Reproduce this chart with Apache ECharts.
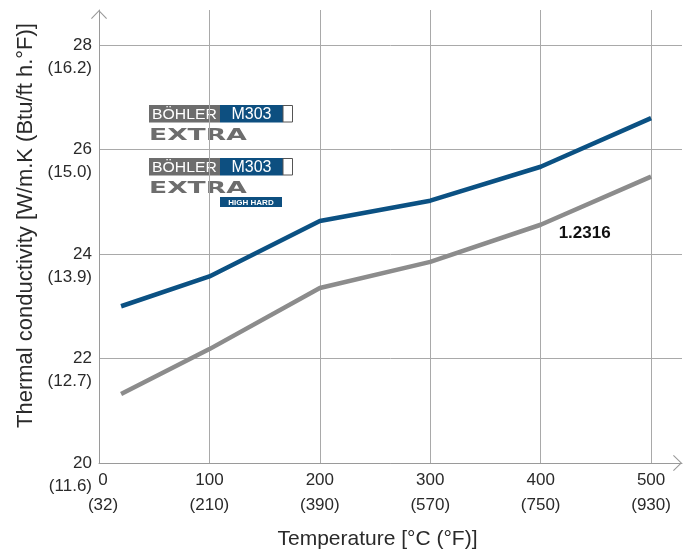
<!DOCTYPE html>
<html>
<head>
<meta charset="utf-8">
<script src="https://cdn.jsdelivr.net/npm/echarts@6/dist/echarts.min.js"></script>
<style>html,body{margin:0;padding:0;background:#fff}#c{width:691px;height:555px}</style>
</head>
<body>
<div id="c"></div>
<script>
// ---- data ----
var xTicksC = [0, 100, 200, 300, 400, 500];
var xTicksF = ['32', '210', '390', '570', '750', '930'];
var yTicksW = [20, 22, 24, 26, 28];
var yTicksB = ['11.6', '12.7', '13.9', '15.0', '16.2'];
var tempC = [20, 100, 200, 300, 400, 500];
var m303Extra = [23.0, 23.57, 24.63, 25.02, 25.67, 26.6];
var steel12316 = [21.32, 22.18, 23.35, 23.85, 24.56, 25.48];
var seriesNames = ['BÖHLER M303 EXTRA', '1.2316'];
var labelText = '1.2316';
var labelIndex = 4;

function pairs(xs, ys) { return xs.map(function (x, i) { return [x, ys[i]]; }); }

var FONT = "'Liberation Sans', Arial, sans-serif";
var TXT = '#2a2a2a';
var GRID = '#a9a9a9';
var AXIS = '#9a9a9a';
var BLUE = '#0b5183';
var GREY = '#8c8c8c';
var LOGO_GREY = '#6d6d6d';
var LOGO_BLUE = '#0d4f80';
var chevron = 'path://M8,0 L16,8.2 L15.2,9 L8,1.5 L0.8,9 L0,8.2 Z';

function logo(top, highHard) {
  var els = [
    { type: 'rect', shape: { x: 149, y: top, width: 71, height: 17.5 }, style: { fill: LOGO_GREY } },
    { type: 'rect', shape: { x: 220, y: top, width: 63, height: 17.5 }, style: { fill: LOGO_BLUE } },
    { type: 'rect', shape: { x: 283, y: top + 0.5, width: 9.5, height: 16.5 }, style: { fill: '#fff', stroke: '#555', lineWidth: 1 } },
    { type: 'text', x: 184.5, y: top + 9.5, scaleX: 1.05, style: { text: 'BÖHLER', fill: '#fff', font: '15px ' + FONT, textAlign: 'center', textVerticalAlign: 'middle' } },
    { type: 'text', x: 251.5, y: top + 9.5, style: { text: 'M303', fill: '#fff', font: '16px ' + FONT, textAlign: 'center', textVerticalAlign: 'middle' } },
    { type: 'text', x: 149, y: top + 31, scaleX: 1.66, style: { text: 'EXTRA', fill: LOGO_GREY, font: 'bold 16px "DejaVu Sans", sans-serif', textAlign: 'left', textVerticalAlign: 'middle' } }
  ];
  if (highHard) {
    els.push({ type: 'rect', shape: { x: 220, y: top + 39, width: 62, height: 10 }, style: { fill: LOGO_BLUE } });
    els.push({ type: 'text', x: 251, y: top + 44.3, style: { text: 'HIGH HARD', fill: '#fff', font: 'bold 8px ' + FONT, textAlign: 'center', textVerticalAlign: 'middle' } });
  }
  return els;
}

var chart = echarts.init(document.getElementById('c'), null, { renderer: 'canvas' });
chart.setOption({
  animation: false,
  backgroundColor: '#fff',
  textStyle: { fontFamily: FONT },
  grid: { left: 99, right: 9, top: 10, bottom: 92, containLabel: false },
  xAxis: {
    type: 'value', min: 0, max: 528, interval: 100,
    name: 'Temperature [°C (°F)]', nameLocation: 'middle', nameGap: 66,
    nameTextStyle: { fontSize: 21, color: TXT, fontFamily: FONT, padding: [0, 26, 0, 0] },
    axisLine: { show: true, lineStyle: { color: AXIS, width: 1 }, symbol: ['none', chevron], symbolSize: [16, 9], symbolOffset: [0, -4.5] },
    axisTick: { show: false, customValues: xTicksC },
    splitLine: { show: true, lineStyle: { color: GRID, width: 1 } },
    axisLabel: {
      customValues: xTicksC, margin: 5, color: TXT, fontSize: 17, lineHeight: 25,
      rich: { z: { fontSize: 17, lineHeight: 25, color: TXT, padding: [0, 0, 0, 8] } },
      formatter: function (v) {
        var i = xTicksC.indexOf(v);
        if (i < 0) return '';
        if (i === 0) return '{z|' + v + '}\n{z|(' + xTicksF[i] + ')}';
        return v + '\n(' + xTicksF[i] + ')';
      }
    }
  },
  yAxis: {
    type: 'value', min: 20, max: 28.67, interval: 2,
    name: 'Thermal conductivity [W/m.K (Btu/ft h.°F)]', nameLocation: 'middle', nameGap: 61,
    nameTextStyle: { fontSize: 22, color: TXT, fontFamily: FONT, padding: [0, 0, 0, 22] },
    axisLine: { show: true, lineStyle: { color: AXIS, width: 1 }, symbol: ['none', chevron], symbolSize: [16, 9], symbolOffset: [0, -4.5] },
    axisTick: { show: false, customValues: yTicksW },
    splitLine: { show: true, lineStyle: { color: GRID, width: 1 } },
    axisLabel: {
      customValues: yTicksW, margin: 7, color: TXT, fontSize: 17, lineHeight: 23, align: 'right',
      formatter: function (v) { var i = yTicksW.indexOf(v); return i < 0 ? '' : '\n' + v + '\n(' + yTicksB[i] + ')'; }
    }
  },
  series: [
    {
      name: seriesNames[0], type: 'line', data: pairs(tempC, m303Extra),
      showSymbol: false, symbol: 'none',
      lineStyle: { color: BLUE, width: 4.5, cap: 'butt', join: 'round' }, itemStyle: { color: BLUE }
    },
    {
      name: seriesNames[1], type: 'line', data: pairs(tempC, steel12316),
      showSymbol: true, symbol: 'circle', symbolSize: 0,
      lineStyle: { color: GREY, width: 4.5, cap: 'butt', join: 'round' }, itemStyle: { color: GREY },
      label: {
        show: true, position: 'right', distance: 0, offset: [18, 9],
        color: '#111', fontWeight: 'bold', fontSize: 17, fontFamily: FONT,
        formatter: function (p) { return p.dataIndex === labelIndex ? labelText : ''; }
      }
    }
  ],
  graphic: logo(105, false).concat(logo(158, true))
});
</script>
</body>
</html>
